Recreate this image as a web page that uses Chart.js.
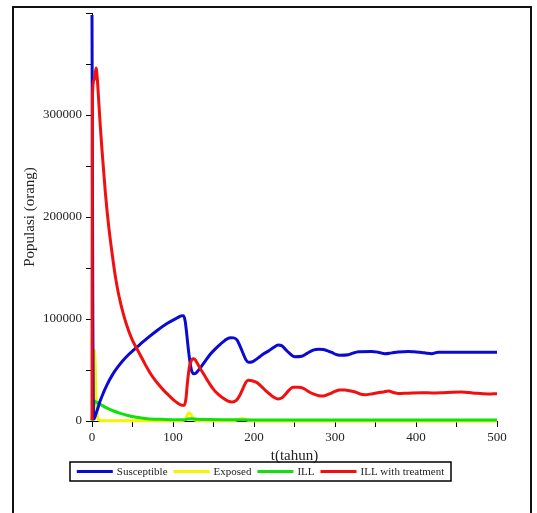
<!DOCTYPE html>
<html><head><meta charset="utf-8">
<script src="https://cdn.jsdelivr.net/npm/chart.js@4.4.1/dist/chart.umd.min.js"></script>
<style>
html,body{margin:0;padding:0;background:#fff;}
#wrap{position:relative;width:537px;height:513px;overflow:hidden;}
#frame{position:absolute;left:12px;top:6px;width:516px;height:540px;border:2px solid #111;pointer-events:none;}
canvas{position:absolute;left:0;top:0;}
</style></head><body>
<div id="wrap"><canvas id="c" width="537" height="513"></canvas><div id="frame"></div></div>
<script>
// ---- data ----
const seriesLabels = ['Susceptible', 'Exposed', 'ILL', 'ILL with treatment'];
const seriesColors = ['#0a0ad2', '#f4f400', '#10e010', '#f01010'];

const tS = [0,0.5,1,1.6,2.5,4,7,10,14,18.5,25,31,38,45,52,57,62,68,80,92.6,105,110,113,115,117,119.3,121.5,123.5,126,128,133.7,140,146,152,158.4,164,170.8,175,179,183,187,190,193.4,197,201,207,212,217.7,224,230,234,238,243,250.6,259,266,273,280,285.6,291,296,301,306,316.5,322,329,345,353,361.7,370,378,390.5,398,407,413,419.5,427.5,448,500];
const S  = [398000,250000,100000,15000,2000,5000,12000,19500,27500,35500,45000,52000,59000,65000,70000,73500,77000,81000,88500,95500,101000,103000,103300,98000,85000,68000,55000,48000,46300,46800,52000,59000,65400,70500,75200,79000,81700,81500,79500,73000,65400,60000,57500,57800,59500,63000,66000,68500,72000,74500,74000,71000,67000,63000,63500,66500,69500,70300,70000,68800,67200,65300,64500,65000,66500,67800,68200,67500,66000,66800,67600,68200,67800,67200,66500,66000,67500,67500,67500];

const tE = [0,1.5,3,4,5,6.5,8,10,30,110,115,118,120,122.5,125,130,140,175,180,185,190,195,230,500];
const E  = [0,30000,69600,55000,25000,6000,1500,500,200,200,1500,6500,8000,6000,2000,500,300,300,1500,2500,1500,300,100,100];

const tI = [0,1,2,2.9,5,10.3,18,26.7,35,43.2,55,68,85,100,115,118,122,130,145,170,200,250,320,400,500];
const I  = [0,8000,15000,19500,18500,16300,12800,9800,7500,5600,3600,2300,1600,1300,1300,2000,2200,1800,1500,1300,1100,1000,1000,1000,1000];

const tR = [0,0.3,0.6,3,5,6.5,8.2,10,12.3,16.5,20.6,24.7,28.8,32.9,39,45,50,56,60,66,71,76,82,88,95,101,106,111,114,116,117.5,120,122,124.7,127,129.6,134,138,144,150,156,162.6,168,172.8,177,180,183,187,190,193,197.5,203.7,209,214,220,225,230,234,238,243,248,255,261,267,273,280,286,293,300,306,312,318,325,331,337,345,353,360,366,372,378,390,407,420,431,445,456,470,489,500];
const R  = [1000,250000,321000,335000,346000,336000,315000,292000,266000,224000,191000,165000,142000,124000,104000,89000,79000,70000,64000,55000,48000,42000,36000,30500,25000,20500,17500,15500,15500,22000,35000,52000,58000,61000,60500,57000,51000,45800,38000,31000,26000,22000,19500,18600,19500,22000,26000,33000,38000,40000,39500,37600,34000,30000,26000,23000,21600,22500,25500,30000,33000,33000,32000,29000,26500,24800,24500,26500,29000,30300,30400,29600,28400,26500,25800,26500,27700,28500,29400,28000,27000,27300,27700,27500,27700,28200,28400,27500,26500,26800];

const xTickLabels = [0,100,200,300,400,500];
const yTickLabels = [0,100000,200000,300000];

const FONT = "'Liberation Serif', 'Times New Roman', serif";
const pts = (t, v) => t.map((x, i) => ({x: x, y: v[i]}));

const legendPlugin = {
  id: 'boxLegend',
  afterDraw(chart) {
    const ctx = chart.ctx;
    const box = {left: 70, top: 462, right: 451, bottom: 481};
    ctx.save();
    ctx.font = '11px ' + FONT;
    const lineW = 36, gap = 4, pad = 6;
    const items = chart.data.datasets.map(d => ({label: d.label, color: d.borderColor, w: ctx.measureText(d.label).width}));
    const total = items.reduce((s, it) => s + lineW + gap + it.w, 0) + pad * (items.length - 1);
    let x = (box.left + box.right) / 2 - total / 2;
    const y = (box.top + box.bottom) / 2;
    ctx.strokeStyle = '#000'; ctx.lineWidth = 1.5;
    ctx.strokeRect(box.left, box.top, box.right - box.left, box.bottom - box.top);
    ctx.textBaseline = 'middle'; ctx.textAlign = 'left';
    items.forEach(it => {
      ctx.strokeStyle = it.color; ctx.lineWidth = 3;
      ctx.beginPath(); ctx.moveTo(x, y); ctx.lineTo(x + lineW, y); ctx.stroke();
      x += lineW + gap;
      ctx.fillStyle = '#222'; ctx.fillText(it.label, x, y + 1);
      x += it.w + pad;
    });
    ctx.restore();
  }
};

const mk = (i, t, v, order) => ({
  label: seriesLabels[i], data: pts(t, v), borderColor: seriesColors[i], backgroundColor: seriesColors[i],
  borderWidth: 3, pointRadius: 0, fill: false, cubicInterpolationMode: 'monotone', clip: false, order: order
});

new Chart(document.getElementById('c'), {
  type: 'line',
  data: { datasets: [ mk(0, tS, S, 2), mk(1, tE, E, 4), mk(2, tI, I, 3), mk(3, tR, R, 1) ] },
  options: {
    responsive: false, animation: false, devicePixelRatio: 1,
    layout: { padding: { left: 0, right: 40, top: 13, bottom: 42 } },
    plugins: { legend: { display: false }, tooltip: { enabled: false } },
    scales: {
      x: {
        type: 'linear', min: 0, max: 500,
        afterFit(s) { s.height = 50; },
        border: { display: true, color: '#000', width: 1 },
        grid: { display: true, drawOnChartArea: false, drawTicks: true, tickLength: 6, color: '#000' },
        ticks: { stepSize: 50, autoSkip: false, maxRotation: 0, padding: 3, color: '#222',
                 font: { family: FONT, size: 13 },
                 callback: v => xTickLabels.includes(v) ? String(v) : '' },
        title: { display: true, text: 't(tahun)', color: '#222', font: { family: FONT, size: 15 }, padding: { top: 0, bottom: 6 } }
      },
      y: {
        type: 'linear', min: 0, max: 400000,
        afterFit(s) { s.width = 92; },
        border: { display: true, color: '#000', width: 1 },
        grid: { display: true, drawOnChartArea: false, drawTicks: true, tickLength: 6, color: '#000' },
        ticks: { stepSize: 50000, autoSkip: false, padding: 4, color: '#222',
                 font: { family: FONT, size: 13 },
                 callback: v => yTickLabels.includes(v) ? String(v) : '' },
        title: { display: true, text: 'Populasi (orang)', color: '#222', font: { family: FONT, size: 15 }, padding: { top: 21, bottom: 0 } }
      }
    }
  },
  plugins: [legendPlugin]
});
</script>
</body></html>
